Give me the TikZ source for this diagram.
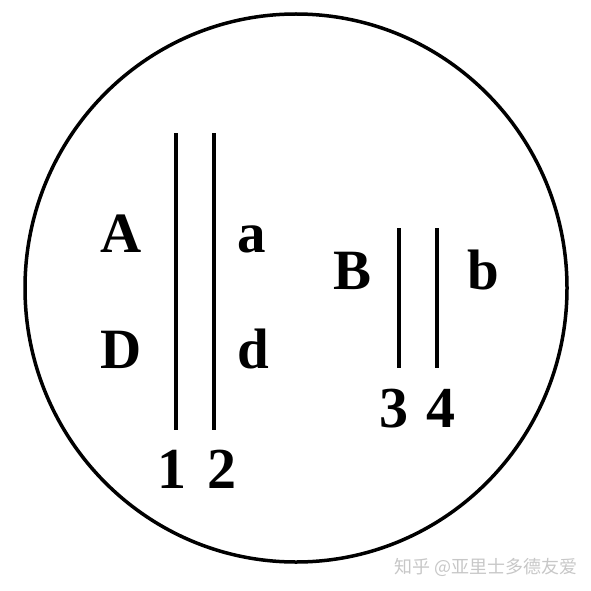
\documentclass[tikz,border=0pt]{standalone}
\usepackage{fontspec}
\setmainfont{Liberation Serif}
\newfontfamily\cjk{Noto Sans CJK SC}
\begin{document}
\begin{tikzpicture}[x=1pt,y=-1pt,
  rod/.style={line width=4pt},
  lab/.style={font=\fontsize{57}{60}\selectfont\bfseries, anchor=base, inner sep=0pt},
  num/.style={font=\fontsize{58}{62}\selectfont\bfseries, anchor=base, inner sep=0pt}]
\useasboundingbox (0,0) rectangle (591,591);
\draw[line width=3.5pt] (296,288) ellipse [x radius=271, y radius=274];
% left pair of lines
\coordinate (l1t) at (176,133); \coordinate (l1b) at (176,430);
\coordinate (l2t) at (214,133); \coordinate (l2b) at (214,430);
\draw[rod] (l1t) -- (l1b);
\draw[rod] (l2t) -- (l2b);
% right pair of lines
\coordinate (r3t) at (399,228); \coordinate (r3b) at (399,368);
\coordinate (r4t) at (437,228); \coordinate (r4b) at (437,368);
\draw[rod] (r3t) -- (r3b);
\draw[rod] (r4t) -- (r4b);
\node[lab] (A) at (121,252) {A};
\node[lab] (D) at (121,368) {D};
\node[lab] (a) at (252,252) {a};
\node[lab] (d) at (253,368) {d};
\node[lab] (B) at (353,289) {B};
\node[lab] (b) at (483,289) {b};
\node[num] (n1) at (172,488) {1};
\node[num] (n2) at (222,488) {2};
\node[num] (n3) at (394,427) {3};
\node[num] (n4) at (441,427) {4};
\node[font=\cjk\fontsize{18}{20}\selectfont, text=black!22, inner sep=0pt] (wm) at (486,567) {知乎 @亚里士多德友爱};
\end{tikzpicture}
\end{document}
